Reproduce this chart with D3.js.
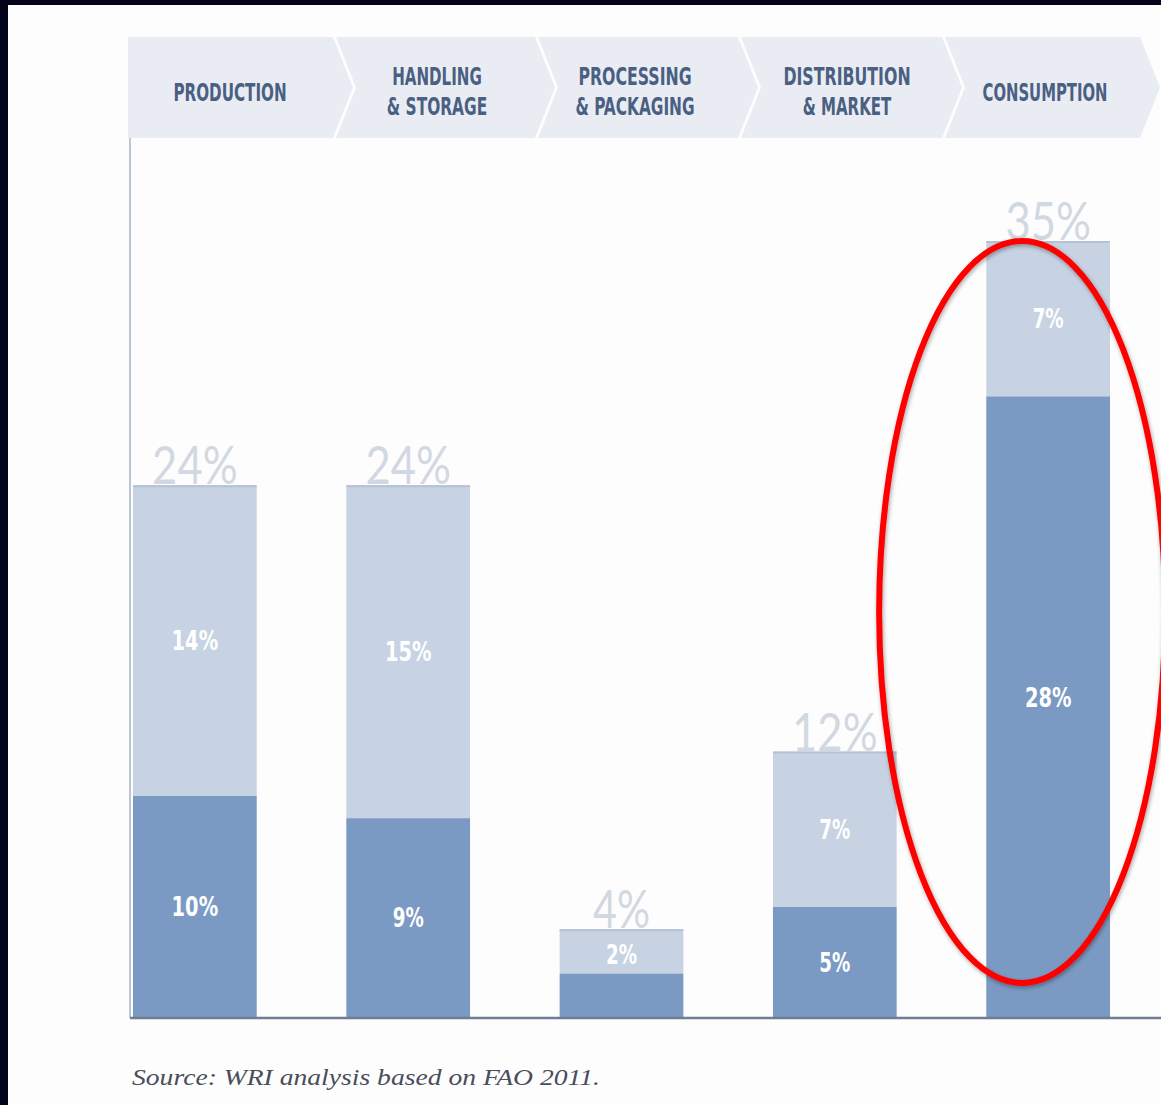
<!DOCTYPE html>
<html>
<head>
<meta charset="utf-8">
<script src="https://cdn.jsdelivr.net/npm/d3@7"></script>
<style>
  html, body { margin: 0; padding: 0; background: #ffffff; }
  svg { display: block; }
</style>
</head>
<body>
<div id="chart"></div>
<script>
// ---- data ----
const stages = ["PRODUCTION", "HANDLING & STORAGE", "PROCESSING & PACKAGING", "DISTRIBUTION & MARKET", "CONSUMPTION"];
const headerLines = [["PRODUCTION"], ["HANDLING", "& STORAGE"], ["PROCESSING", "& PACKAGING"], ["DISTRIBUTION", "& MARKET"], ["CONSUMPTION"]];
const darkValues = [10, 9, 2, 5, 28];     // lower (dark) segment
const lightValues = [14, 15, 2, 7, 7];    // upper (light) segment
const totalValues = [24, 24, 4, 12, 35];
const darkLabels = ["10%", "9%", "", "5%", "28%"];
const lightLabels = ["14%", "15%", "2%", "7%", "7%"];
const totalLabels = ["24%", "24%", "4%", "12%", "35%"];
const highlightStage = "CONSUMPTION";
const sourceText = "Source: WRI analysis based on FAO 2011.";

// ---- layout ----
const W = 1161, H = 1105;
const svg = d3.select("#chart").append("svg").attr("width", W).attr("height", H);

svg.append("rect").attr("width", W).attr("height", H).attr("fill", "#fdfdfe");

const x = d3.scaleBand().domain(stages).range([133, 1110]).paddingInner(0.42).paddingOuter(0);
const y = d3.scaleLinear().domain([0, 35]).range([1018, 241]);

// header chevron band
const bandTop = 37, bandBot = 138, bandMid = (bandTop + bandBot) / 2, tip = 20;
const bounds = [128, 333, 535, 738, 942, 1140];
const hdr = svg.append("g");
stages.forEach((s, i) => {
  const L = bounds[i] + (i > 0 ? 3 : 0), R = bounds[i + 1];
  const pts = [[L, bandTop], [R, bandTop], [R + tip, bandMid], [R, bandBot], [L, bandBot]];
  if (i > 0) pts.push([L + tip, bandMid]);
  hdr.append("polygon").attr("points", pts.map(p => p.join(",")).join(" "))
    .attr("fill", "#e9edf3");
});
function hdrWidth(t) {
  let w = 0;
  for (const c of t) w += (c === " ") ? 6 : (c === "I" ? 7 : 11.8);
  return w;
}
const hdrCenters = [230, 437, 635, 847, 1045];
headerLines.forEach((lines, i) => {
  const baselines = lines.length === 1 ? [101] : [85, 115];
  lines.forEach((t, j) => {
    hdr.append("text")
      .attr("x", hdrCenters[i]).attr("y", baselines[j])
      .attr("text-anchor", "middle")
      .attr("font-family", "'DejaVu Sans Condensed', 'DejaVu Sans', sans-serif")
      .attr("font-weight", "bold")
      .attr("font-size", 24)
      .attr("fill", "#4a5f82")
      .attr("textLength", hdrWidth(t))
      .attr("lengthAdjust", "spacingAndGlyphs")
      .text(t);
  });
});

// left axis line
svg.append("line").attr("x1", 130).attr("x2", 130).attr("y1", bandBot).attr("y2", y(0))
  .attr("stroke", "#bcc5d1").attr("stroke-width", 2);

// bars
const g = svg.append("g");
stages.forEach((s, i) => {
  const bx = x(s), bw = x.bandwidth();
  g.append("rect").attr("x", bx).attr("width", bw)
    .attr("y", y(darkValues[i] + lightValues[i])).attr("height", y(darkValues[i]) - y(darkValues[i] + lightValues[i]))
    .attr("fill", "#c7d3e3");
  g.append("rect").attr("x", bx).attr("width", bw)
    .attr("y", y(darkValues[i])).attr("height", y(0) - y(darkValues[i]))
    .attr("fill", "#7b9ac3");
  g.append("line").attr("x1", bx).attr("x2", bx + bw)
    .attr("y1", y(totalValues[i]) + 1).attr("y2", y(totalValues[i]) + 1)
    .attr("stroke", "#b5c2d4").attr("stroke-width", 2);

  const cx = bx + bw / 2;
  const inner = (t, yy) => g.append("text")
    .attr("x", cx).attr("y", yy).attr("dy", "0.36em")
    .attr("text-anchor", "middle")
    .attr("font-family", "'DejaVu Sans Condensed', 'DejaVu Sans', sans-serif")
    .attr("font-weight", "bold").attr("font-size", 26)
    .attr("fill", "#ffffff")
    .attr("textLength", t.length * 15.5)
    .attr("lengthAdjust", "spacingAndGlyphs")
    .text(t);
  if (lightLabels[i]) inner(lightLabels[i], (y(darkValues[i]) + y(darkValues[i] + lightValues[i])) / 2 + (lightValues[i] < 3 ? 3 : 0));
  if (darkLabels[i]) inner(darkLabels[i], (y(0) + y(darkValues[i])) / 2 - (darkValues[i] > 20 ? 10 : 0));

  g.append("text")
    .attr("x", cx).attr("y", y(totalValues[i]) - 1)
    .attr("text-anchor", "middle")
    .attr("font-family", "Lato, 'Open Sans', sans-serif")
    .attr("font-weight", 400).attr("font-size", 52)
    .attr("fill", "#d2d8e1")
    .attr("textLength", totalLabels[i].length * 28.5)
    .attr("lengthAdjust", "spacingAndGlyphs")
    .text(totalLabels[i]);
});

// baseline
svg.append("line").attr("x1", 130).attr("x2", W).attr("y1", y(0)).attr("y2", y(0))
  .attr("stroke", "#6f7e92").attr("stroke-width", 2.5);

// highlight ellipse
const defs = svg.append("defs");
const f = defs.append("filter").attr("id", "sh").attr("x", "-20%").attr("y", "-20%").attr("width", "140%").attr("height", "140%");
f.append("feDropShadow").attr("dx", 1).attr("dy", 2).attr("stdDeviation", 2).attr("flood-color", "#000").attr("flood-opacity", 0.35);
const hx = x(highlightStage) + x.bandwidth() / 2 - 26;
svg.append("ellipse")
  .attr("cx", hx).attr("cy", 612).attr("rx", 143).attr("ry", 371)
  .attr("fill", "none").attr("stroke", "#ff0000").attr("stroke-width", 6)
  .attr("filter", "url(#sh)");

// source
svg.append("text").attr("x", 132).attr("y", 1085)
  .attr("font-family", "'Liberation Serif', 'DejaVu Serif', serif")
  .attr("font-style", "italic").attr("font-size", 23)
  .attr("fill", "#4a4d5a")
  .attr("textLength", 468).attr("lengthAdjust", "spacingAndGlyphs")
  .text(sourceText);

// dark frame edges
svg.append("rect").attr("x", 0).attr("y", 0).attr("width", W).attr("height", 5).attr("fill", "#03031b");
svg.append("rect").attr("x", 0).attr("y", 0).attr("width", 8).attr("height", H).attr("fill", "#03031b");
</script>
</body>
</html>
